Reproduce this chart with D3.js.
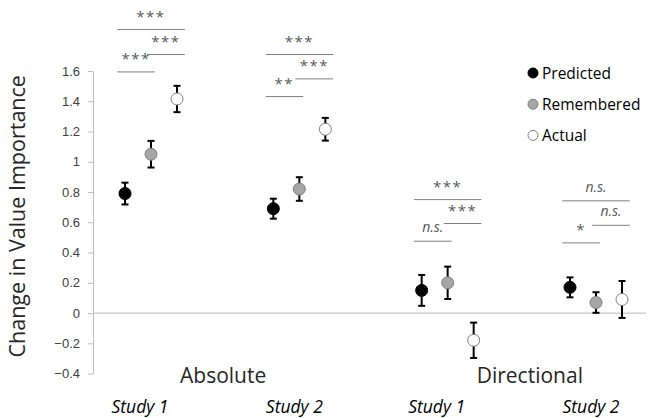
<!DOCTYPE html>
<html>
<head>
<meta charset="utf-8">
<script src="https://cdn.jsdelivr.net/npm/d3@7"></script>
<style>
  body { margin: 0; background: #fff; }
  svg { display: block; font-family: "Open Sans", sans-serif; }
</style>
</head>
<body>
<svg id="chart" width="649" height="418"></svg>
<script>
// data
const groups = ['Abs1', 'Abs2', 'Dir1', 'Dir2'];
const studyLabels = ['Study 1', 'Study 2', 'Study 1', 'Study 2'];
const conditions = ['Absolute', 'Directional'];
const series = ['Predicted', 'Remembered', 'Actual'];
const predicted  = [0.79, 0.69, 0.15, 0.17];
const remembered = [1.05, 0.82, 0.20, 0.07];
const actual     = [1.415, 1.215, -0.18, 0.09];
const predictedErr  = [0.072, 0.066, 0.102, 0.066];
const rememberedErr = [0.088, 0.078, 0.107, 0.068];
const actualErr     = [0.087, 0.075, 0.117, 0.122];
const yTicks = [-0.4, -0.2, 0, 0.2, 0.4, 0.6, 0.8, 1, 1.2, 1.4, 1.6];

// significance brackets: group, from/to (in point steps from centre), level, label
const brackets = [
  { g: 'Abs1', from: -1.3, to: 1.3,  y: 1.874, label: '***' },
  { g: 'Abs1', from: -0.15, to: 1.3, y: 1.709, label: '***' },
  { g: 'Abs1', from: -1.3, to: 0.15, y: 1.594, label: '***' },
  { g: 'Abs2', from: -1.3, to: 1.3,  y: 1.709, label: '***' },
  { g: 'Abs2', from: -0.15, to: 1.3, y: 1.548, label: '***' },
  { g: 'Abs2', from: -1.3, to: 0.15, y: 1.431, label: '**' },
  { g: 'Dir1', from: -1.3, to: 1.3,  y: 0.750, label: '***' },
  { g: 'Dir1', from: -0.15, to: 1.3, y: 0.592, label: '***' },
  { g: 'Dir1', from: -1.3, to: 0.15, y: 0.475, label: 'n.s.' },
  { g: 'Dir2', from: -1.3, to: 1.3,  y: 0.742, label: 'n.s.' },
  { g: 'Dir2', from: -0.15, to: 1.3, y: 0.580, label: 'n.s.' },
  { g: 'Dir2', from: -1.3, to: 0.15, y: 0.464, label: '*' }
];

const values = [predicted, remembered, actual];
const errs = [predictedErr, rememberedErr, actualErr];
const fills = ['#000000', '#a6a6a6', '#ffffff'];
const strokes = ['#000000', '#7f7f7f', '#7f7f7f'];

const points = [];
series.forEach((s, si) => groups.forEach((g, gi) => {
  points.push({ s, si, g, v: values[si][gi], e: errs[si][gi] });
}));

const svg = d3.select('#chart');
const W = 649;

const y = d3.scaleLinear().domain([-0.4, 1.6]).range([373.6, 71]);
const x = d3.scalePoint().domain(groups).range([151, 596]);
const step = 26;
const off = d3.scalePoint().domain(series).range([-step, step]);

// y axis
const axis = svg.append('g')
  .attr('transform', 'translate(93,0)')
  .call(d3.axisLeft(y).tickValues(yTicks).tickSize(5).tickSizeOuter(0).tickPadding(8)
    .tickFormat(d => d3.format('')(+d.toFixed(1))));
axis.select('.domain').attr('stroke', '#bfbfbf');
axis.selectAll('.tick line').attr('stroke', '#bfbfbf');
axis.selectAll('.tick text').attr('fill', '#404040').style('font-size', '13px');

// zero line
svg.append('line')
  .attr('x1', 93).attr('x2', W - 3)
  .attr('y1', y(0)).attr('y2', y(0))
  .attr('stroke', '#c8c8c8').attr('stroke-width', 1.2);

// y title
svg.append('text')
  .attr('transform', `translate(25,${(71 + 373.6) / 2 - 6}) rotate(-90)`)
  .attr('text-anchor', 'middle')
  .attr('fill', '#262626')
  .style('font-size', '21.5px')
  .text('Change in Value Importance');

// error bars
const eb = svg.append('g').attr('stroke', '#000').attr('stroke-width', 2);
points.forEach(p => {
  const cx = x(p.g) + off(p.s);
  eb.append('line').attr('x1', cx).attr('x2', cx).attr('y1', y(p.v + p.e)).attr('y2', y(p.v - p.e));
  eb.append('line').attr('x1', cx - 3.5).attr('x2', cx + 3.5).attr('y1', y(p.v + p.e)).attr('y2', y(p.v + p.e));
  eb.append('line').attr('x1', cx - 3.5).attr('x2', cx + 3.5).attr('y1', y(p.v - p.e)).attr('y2', y(p.v - p.e));
});

// markers
svg.append('g').selectAll('circle')
  .data(points)
  .enter().append('circle')
    .attr('cx', d => x(d.g) + off(d.s))
    .attr('cy', d => y(d.v))
    .attr('r', 6)
    .attr('fill', d => fills[d.si])
    .attr('stroke', d => strokes[d.si])
    .attr('stroke-width', 1);

// brackets
const br = svg.append('g');
brackets.forEach(b => {
  const x1 = x(b.g) + b.from * step, x2 = x(b.g) + b.to * step;
  br.append('line')
    .attr('x1', x1).attr('x2', x2)
    .attr('y1', y(b.y)).attr('y2', y(b.y))
    .attr('stroke', '#808080').attr('stroke-width', 1);
  const ns = b.label === 'n.s.';
  br.append('text')
    .attr('x', (x1 + x2) / 2)
    .attr('y', y(b.y) - (ns ? 9 : 7.5))
    .attr('text-anchor', 'middle')
    .attr('fill', '#595959')
    .style('font-size', ns ? '14px' : '15px')
    .style('letter-spacing', ns ? '0px' : '1.5px')
    .style('font-style', ns ? 'italic' : 'normal')
    .text(b.label);
});

// category labels
conditions.forEach((c, i) => {
  const cx = (x(groups[2 * i]) + x(groups[2 * i + 1])) / 2 + (i ? 8 : -2);
  svg.append('text')
    .attr('x', cx).attr('y', 383)
    .attr('text-anchor', 'middle')
    .attr('fill', '#262626')
    .style('font-size', '21px')
    .text(c);
});

// study labels
groups.forEach((g, i) => {
  svg.append('text')
    .attr('x', x(g) + (i % 2 ? -5 : -11)).attr('y', 413)
    .attr('text-anchor', 'middle')
    .attr('fill', '#000')
    .style('font-size', '17.5px')
    .style('font-style', 'italic')
    .text(studyLabels[i]);
});

// legend
const leg = svg.append('g').attr('transform', 'translate(533,73)');
series.forEach((s, i) => {
  const row = leg.append('g').attr('transform', `translate(0,${i * 31.2})`);
  row.append('circle').attr('r', 5)
    .attr('fill', fills[i]).attr('stroke', strokes[i]).attr('stroke-width', 1);
  row.append('text').attr('x', 9).attr('y', 5.5)
    .attr('fill', '#000')
    .style('font-size', '15.5px')
    .text(s);
});
</script>
</body>
</html>
